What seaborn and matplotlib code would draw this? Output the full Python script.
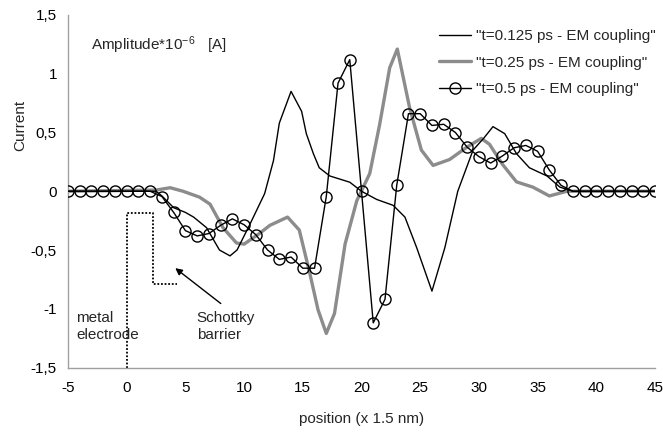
import numpy as np
import pandas as pd
import matplotlib
matplotlib.use("Agg")
import matplotlib.pyplot as plt
import seaborn as sns

# --- data -------------------------------------------------------------
# t = 0.125 ps
x_t125 = [-5, 2.5, 3, 4, 5, 5.7, 6.8, 7.9, 8.8, 9.4, 10.5, 11.75, 12.5, 13, 14,
          14.9, 15.3, 15.9, 16.4, 17.3, 19, 20, 21.3, 22.7, 23.7, 24.7, 26, 27.1,
          28.2, 29.5, 30.4, 31.2, 32.2, 33.2, 34.3, 35.8, 36.9, 38, 45]
y_t125 = [0, 0, -0.04, -0.14, -0.18, -0.22, -0.31, -0.50, -0.55, -0.50, -0.28,
          -0.02, 0.26, 0.58, 0.85, 0.68, 0.49, 0.32, 0.20, 0.13, 0.077, 0.0,
          -0.07, -0.12, -0.22, -0.48, -0.85, -0.48, 0.0, 0.35, 0.45, 0.55, 0.49,
          0.32, 0.20, 0.13, 0.035, 0, 0]

# t = 0.25 ps
x_t25 = [-5, 2.5, 3.7, 4.8, 6.2, 7.1, 8.2, 9.35, 10, 11.3, 12.2, 13.7, 14.7,
         15.6, 16.3, 17, 17.7, 18.6, 19.6, 20.7, 21.55, 22.4, 23.05, 24.1, 25.1,
         26.1, 27.5, 28.9, 30.2, 30.9, 32, 33.2, 34.6, 36, 37.5, 45]
y_t25 = [0, 0.01, 0.03, 0, -0.05, -0.11, -0.31, -0.44, -0.45, -0.36, -0.29,
         -0.22, -0.33, -0.70, -1.01, -1.21, -1.04, -0.45, -0.08, 0.15, 0.57,
         1.05, 1.21, 0.71, 0.35, 0.22, 0.27, 0.37, 0.45, 0.40, 0.23, 0.08,
         0.035, -0.04, 0, 0]

# t = 0.5 ps (one sample per grid position)
x_t5 = list(range(-5, 46))
y_t5 = [0, 0, 0, 0, 0, 0, 0, 0,
        -0.045, -0.18, -0.335, -0.38, -0.36, -0.29, -0.235, -0.285, -0.37,
        -0.50, -0.58, -0.56, -0.655, -0.655, -0.045, 0.92, 1.12, 0.0, -1.12,
        -0.92, 0.05, 0.66, 0.66, 0.56, 0.57, 0.50, 0.375, 0.295, 0.24, 0.30,
        0.37, 0.39, 0.34, 0.18, 0.05,
        0, 0, 0, 0, 0, 0, 0, 0]

series_labels = ['"t=0.125 ps - EM coupling"',
                 '"t=0.25 ps - EM coupling"',
                 '"t=0.5 ps - EM coupling"']

# Schottky barrier sketch (position, height)
barrier_x = [0, 0, 2.2, 2.2, 4.25]
barrier_y = [-1.5, -0.185, -0.185, -0.79, -0.79]

x_ticks = list(range(-5, 50, 5))
y_ticks = [-1.5, -1, -0.5, 0, 0.5, 1, 1.5]
y_ticklabels = ["-1,5", "-1", "-0,5", "0", "0,5", "1", "1,5"]

FS = 11

# --- style ------------------------------------------------------------
sns.set_style("white")
plt.rcParams["font.family"] = ["Liberation Sans", "DejaVu Sans"]
plt.rcParams["mathtext.fontset"] = "custom"
plt.rcParams["mathtext.rm"] = "Liberation Sans"
plt.rcParams["mathtext.it"] = "Liberation Sans"
plt.rcParams["font.size"] = FS

fig = plt.figure(figsize=(6.63, 4.32), dpi=100)
ax = fig.add_axes([68 / 663, 1 - 367.5 / 432, 587 / 663, 352.5 / 432])

df1 = pd.DataFrame({"x": x_t125, "y": y_t125})
df2 = pd.DataFrame({"x": x_t25, "y": y_t25})
df3 = pd.DataFrame({"x": x_t5, "y": y_t5})

sns.lineplot(data=df2, x="x", y="y", ax=ax, color="#8c8c8c", lw=2.4,
             estimator=None, sort=False, label=series_labels[1], zorder=2)
sns.lineplot(data=df1, x="x", y="y", ax=ax, color="black", lw=1.0,
             estimator=None, sort=False, label=series_labels[0], zorder=3)
sns.lineplot(data=df3, x="x", y="y", ax=ax, color="black", lw=1.0,
             marker="o", markersize=8, markerfacecolor="none",
             markeredgecolor="black", markeredgewidth=1.0,
             estimator=None, sort=False, label=series_labels[2], zorder=4)

ax.set_xlim(-5, 45)
ax.set_ylim(-1.5, 1.5)
ax.set_xticks(x_ticks)
ax.set_xticklabels([str(v) for v in x_ticks])
ax.set_yticks(y_ticks)
ax.set_yticklabels(y_ticklabels)
ax.tick_params(axis="both", labelsize=FS, colors="#a0a0a0", labelcolor="black",
               direction="out", length=5, width=1)
ax.tick_params(axis="x", pad=5)
ax.tick_params(axis="y", pad=3)
for side in ("top", "right"):
    ax.spines[side].set_visible(False)
for side in ("left", "bottom"):
    ax.spines[side].set_color("#a0a0a0")
    ax.spines[side].set_linewidth(1)
ax.set_xlabel("position (x 1.5 nm)", fontsize=FS, labelpad=12)
ax.set_ylabel("")
fig.text(20 / 663, 1 - 125 / 432, "Current", rotation=90, ha="center",
         va="center", fontsize=FS)

# legend in the original draw order
handles, labels = ax.get_legend_handles_labels()
order = [labels.index(l) for l in series_labels]
leg = ax.legend([handles[i] for i in order], [labels[i] for i in order],
                loc="upper left", bbox_to_anchor=(439 / 663, 1 - 29 / 432),
                bbox_transform=fig.transFigure, frameon=False, fontsize=FS,
                handlelength=2.1, handletextpad=0.3, labelspacing=0.82,
                borderpad=0, borderaxespad=0)

ax.text(-3.05, 1.24, r"Amplitude*10$^{-6}$   [A]", fontsize=FS, va="center",
        ha="left")

# metal / Schottky barrier annotation
ax.plot(barrier_x, barrier_y, color="black", lw=1.3, ls=(0, (1, 1)), zorder=1)
ax.text(-4.3, -1.15, "metal\nelectrode", fontsize=FS, ha="left", va="center",
        linespacing=1.3)
ax.text(5.95, -1.15, "Schottky\nbarrier", fontsize=FS, ha="left", va="center",
        linespacing=1.3)
ax.annotate("", xy=(3.95, -0.64), xytext=(8.2, -0.97),
            arrowprops=dict(arrowstyle="-|>", color="black", lw=1,
                            mutation_scale=10))

fig.savefig("out.png", dpi=100)
